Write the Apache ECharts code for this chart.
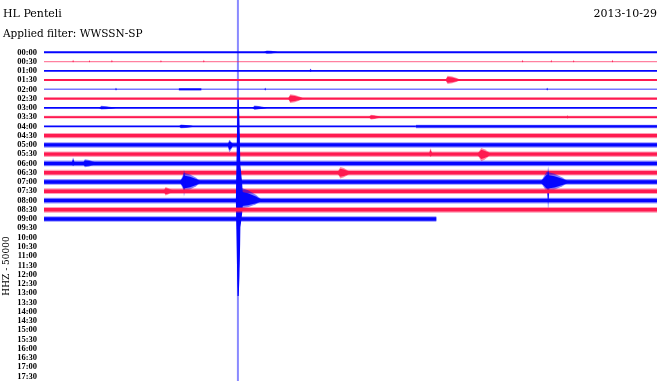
<!DOCTYPE html>
<html><head><meta charset="utf-8">
<script src="https://cdn.jsdelivr.net/npm/echarts@6/dist/echarts.min.js"></script>
<style>html,body{margin:0;padding:0;background:#fff}#c{width:660px;height:381px}</style>
</head><body><div id="c"></div>
<script>
// ---- texts ----
const stationName = 'HL Penteli';
const filterText = 'Applied filter: WWSSN-SP';
const dateText = '2013-10-29';
const channelText = 'HHZ - 50000';

// ---- rows (30-minute lines) ----
const rowLabels = ['00:00','00:30','01:00','01:30','02:00','02:30','03:00','03:30','04:00','04:30',
  '05:00','05:30','06:00','06:30','07:00','07:30','08:00','08:30','09:00','09:30',
  '10:00','10:30','11:00','11:30','12:00','12:30','13:00','13:30','14:00','14:30',
  '15:00','15:30','16:00','16:30','17:00','17:30'];

// background noise: [row, startMinute, endMinute, halfAmplitude (in row spacings)]
const noiseSegments = [
  [0, 0, 30, 0.10], [1, 0, 30, 0.07], [2, 0, 30, 0.10], [3, 0, 30, 0.11],
  [4, 0, 30, 0.08], [4, 6.6, 7.7, 0.11], [5, 0, 30, 0.11], [6, 0, 30, 0.10],
  [7, 0, 30, 0.15], [8, 0, 18.2, 0.10], [8, 18.2, 30, 0.19], [9, 0, 30, 0.28],
  [10, 0, 30, 0.30], [11, 0, 30, 0.30], [12, 0, 30, 0.31], [13, 0, 30, 0.31],
  [14, 0, 30, 0.31], [15, 0, 30, 0.31], [16, 0, 30, 0.31], [17, 0, 30, 0.31],
  [18, 0, 19.2, 0.30]
];

// seismic events / spikes: [row, startMinute, peakMinute, endMinute, upAmp, downAmp] (row spacings)
const quakeEvents = [
  [0, 10.75, 10.9, 11.5, 0.2, 0.16],
  [1, 1.4, 1.42, 1.45, 0.2, 0.1], [1, 2.2, 2.22, 2.25, 0.18, 0.1], [1, 3.3, 3.32, 3.35, 0.2, 0.1],
  [1, 5.7, 5.72, 5.75, 0.18, 0.1], [1, 7.8, 7.82, 7.85, 0.2, 0.1], [1, 23.4, 23.42, 23.45, 0.2, 0.1],
  [1, 24.8, 24.82, 24.85, 0.2, 0.1], [1, 25.9, 25.92, 25.95, 0.18, 0.1], [1, 27.8, 27.82, 27.85, 0.2, 0.1],
  [2, 13.0, 13.03, 13.1, 0.25, 0.1],
  [3, 19.65, 19.75, 20.4, 0.48, 0.42],
  [4, 3.5, 3.52, 3.55, 0.2, 0.15], [4, 10.8, 10.82, 10.85, 0.2, 0.15], [4, 24.6, 24.62, 24.65, 0.2, 0.15],
  [5, 11.95, 12.05, 12.7, 0.48, 0.48],
  [6, 2.7, 2.8, 3.5, 0.22, 0.18], [6, 10.2, 10.3, 10.9, 0.25, 0.2],
  [7, 15.9, 16.0, 16.5, 0.25, 0.25], [7, 25.6, 25.62, 25.65, 0.25, 0.2],
  [8, 6.6, 6.7, 7.4, 0.2, 0.2],
  [10, 9.0, 9.06, 9.25, 0.55, 0.8],
  [11, 18.85, 18.9, 19.0, 0.65, 0.3],
  [11, 21.2, 21.4, 21.85, 0.68, 0.75],
  [12, 1.35, 1.42, 1.5, 0.65, 0.3], [12, 1.9, 2.0, 2.6, 0.45, 0.4],
  [13, 14.35, 14.5, 15.0, 0.62, 0.62],
  [14, 6.65, 6.85, 7.7, 1.0, 1.0], [14, 6.8, 6.85, 6.92, 1.35, 1.6],
  [14, 24.3, 24.6, 25.7, 1.1, 1.05], [14, 24.6, 24.67, 24.74, 1.7, 3.1],
  [15, 5.85, 5.95, 6.3, 0.45, 0.45],
  [16, 9.42, 9.5, 9.6, 10.9, 10.3],
  [16, 9.43, 9.55, 9.72, 4.0, 3.0],
  [16, 9.5, 9.6, 10.7, 1.4, 0.9]
];

const cursorMinute = 9.49;

// ---- build items, drawn row by row (noise first, then events of that row) ----
const items = [];
for (let r = 0; r < rowLabels.length; r++) {
  noiseSegments.filter(s => s[0] === r).forEach(s => items.push([s[0], s[1], s[1], s[2], s[3], s[3], 0]));
  quakeEvents.filter(e => e[0] === r).forEach(e => items.push([e[0], e[1], e[2], e[3], e[4], e[5], 1]));
}

const BLUE = '#0505ff';
const RED = '#ff1a50';

function renderTrace(params, api) {
  const row = api.value(0), s = api.value(1), p = api.value(2), e = api.value(3);
  const up = api.value(4), dn = api.value(5), kind = api.value(6);
  const color = row % 2 === 0 ? BLUE : RED;
  const rowPx = Math.abs(api.coord([0, 1])[1] - api.coord([0, 0])[1]);
  const a = api.coord([s, row]), b = api.coord([p, row]), c = api.coord([e, row]);
  const y = a[1];
  if (kind === 0) {
    const h = up * rowPx;
    if (up < 0.13) {
      return {type: 'rect', shape: {x: a[0], y: y - h, width: c[0] - a[0], height: 2 * h},
        style: {fill: color, opacity: up < 0.09 ? 0.55 : 1}};
    }
    return {type: 'group', children: [
      {type: 'rect', shape: {x: a[0], y: y - h, width: c[0] - a[0], height: 2 * h}, style: {fill: color, opacity: 0.42}},
      {type: 'rect', shape: {x: a[0], y: y - h * 0.6, width: c[0] - a[0], height: 2 * h * 0.6}, style: {fill: color}}
    ]};
  }
  const d = c[0] - b[0];
  function shape(k) {
    const U = up * rowPx * k, D = dn * rowPx * k;
    return [[a[0], y], [b[0], y - U], [b[0] + d * 0.35, y - U * 0.8], [b[0] + d * 0.7, y - U * 0.45], [c[0], y],
      [b[0] + d * 0.7, y + D * 0.45], [b[0] + d * 0.35, y + D * 0.8], [b[0], y + D]];
  }
  const big = up > 2;
  return {type: 'group', children: [
    {type: 'polygon', shape: {points: shape(1)}, style: {fill: color, opacity: 0.5}},
    {type: 'polygon', shape: {points: shape(big ? 1 : 0.7)},
      style: {fill: color, stroke: big ? color : null, lineWidth: big ? 1.2 : 0}}
  ]};
}

function renderCursor(params, api) {
  const x = api.coord([api.value(0), 0])[0];
  return {type: 'line', shape: {x1: x, y1: 0, x2: x, y2: api.getHeight()},
    style: {stroke: '#8a8aff', lineWidth: 2}};
}

const chart = echarts.init(document.getElementById('c'), null, {renderer: 'canvas'});
chart.setOption({
  animation: false,
  backgroundColor: '#fff',
  grid: {left: 44, right: 3, top: 52.3, bottom: 2},
  xAxis: {type: 'value', min: 0, max: 30, show: false},
  yAxis: {
    type: 'value', min: 0, max: 35, interval: 1, inverse: true,
    axisLine: {show: false}, axisTick: {show: false}, splitLine: {show: false},
    axisLabel: {
      margin: 7, color: '#000', fontFamily: 'Liberation Serif', fontWeight: 'bold', fontSize: 8.5,
      showMinLabel: true, showMaxLabel: true,
      formatter: v => rowLabels[v] || ''
    }
  },
  series: [
    {type: 'custom', clip: false, silent: true, renderItem: renderCursor, data: [[cursorMinute, 0]], encode: {x: 0, y: 1}, z: 1},
    {type: 'custom', clip: false, silent: true, renderItem: renderTrace, data: items, encode: {x: [1, 2, 3], y: 0}, z: 2}
  ],
  graphic: [
    {type: 'text', left: 3, top: 9, style: {text: stationName, font: '11px "DejaVu Serif"', fill: '#000'}},
    {type: 'text', left: 3, top: 29, style: {text: filterText, font: '10.5px "DejaVu Serif"', fill: '#000'}},
    {type: 'text', right: 3, top: 9, style: {text: dateText, font: '11px "DejaVu Serif"', fill: '#000'}},
    {type: 'text', x: 7, y: 266, rotation: Math.PI / 2,
      style: {text: channelText, font: '9px "DejaVu Serif"', fill: '#000', align: 'center', verticalAlign: 'middle'}}
  ]
});
</script>
</body></html>
